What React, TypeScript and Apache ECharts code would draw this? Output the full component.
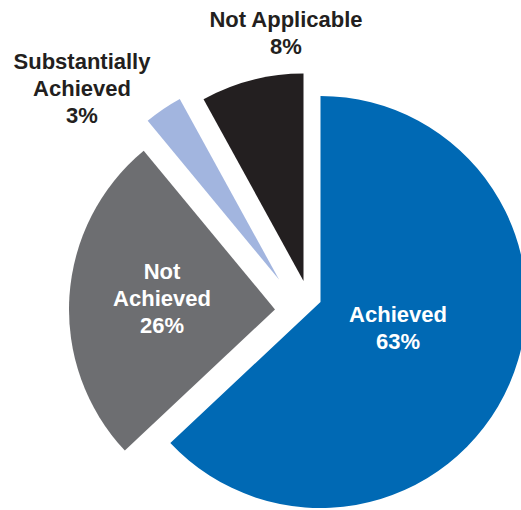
import React, { useEffect, useRef } from "react";
import * as echarts from "echarts";

const categories = ["Achieved", "Not Achieved", "Substantially Achieved", "Not Applicable"];
const values = [63, 26, 3, 8];
const sliceColors = ["#0069b4", "#6d6e71", "#a2b5df", "#231f20"];

// layout (positions only)
const sliceCenters: [number, number][] = [
  [320.5, 302],
  [275, 309.5],
  [279, 279.5],
  [303.5, 281],
];
const labelLines = [
  ["Achieved"],
  ["Not", "Achieved"],
  ["Substantially", "Achieved"],
  ["Not Applicable"],
];
const labelPos: [number, number][] = [
  [398, 328],
  [162, 298],
  [82, 88],
  [286, 32.5],
];
const labelColors = ["#ffffff", "#ffffff", "#231f20", "#231f20"];

export default function App() {
  const ref = useRef<HTMLDivElement>(null);
  useEffect(() => {
    if (!ref.current) return;
    const chart = echarts.init(ref.current, null, { renderer: "svg" });
    const series = categories.map((_, si) => ({
      type: "pie",
      radius: si === 3 ? 207.5 : 206,
      center: sliceCenters[si],
      startAngle: 90,
      clockwise: true,
      silent: true,
      label: { show: false },
      labelLine: { show: false },
      emphasis: { disabled: true },
      itemStyle: { borderWidth: 0 },
      data: categories.map((name, i) => ({
        name,
        value: values[i],
        itemStyle: { color: i === si ? sliceColors[i] : "rgba(0,0,0,0)" },
      })),
    }));
    const graphic = categories.map((_, i) => ({
      type: "text",
      x: labelPos[i][0],
      y: labelPos[i][1],
      silent: true,
      style: {
        text: [...labelLines[i], `${values[i]}%`].join("\n"),
        fill: labelColors[i],
        font: 'bold 22px "Liberation Sans", Arial, sans-serif',
        align: "center",
        verticalAlign: "middle",
        lineHeight: 27,
      },
      z: 100,
    }));
    chart.setOption({
      animation: false,
      backgroundColor: "#ffffff",
      series,
      graphic,
    });
    return () => chart.dispose();
  }, []);
  return (
    <div
      ref={ref}
      style={{ position: "fixed", left: 0, top: 0, width: 521, height: 510 }}
    />
  );
}
